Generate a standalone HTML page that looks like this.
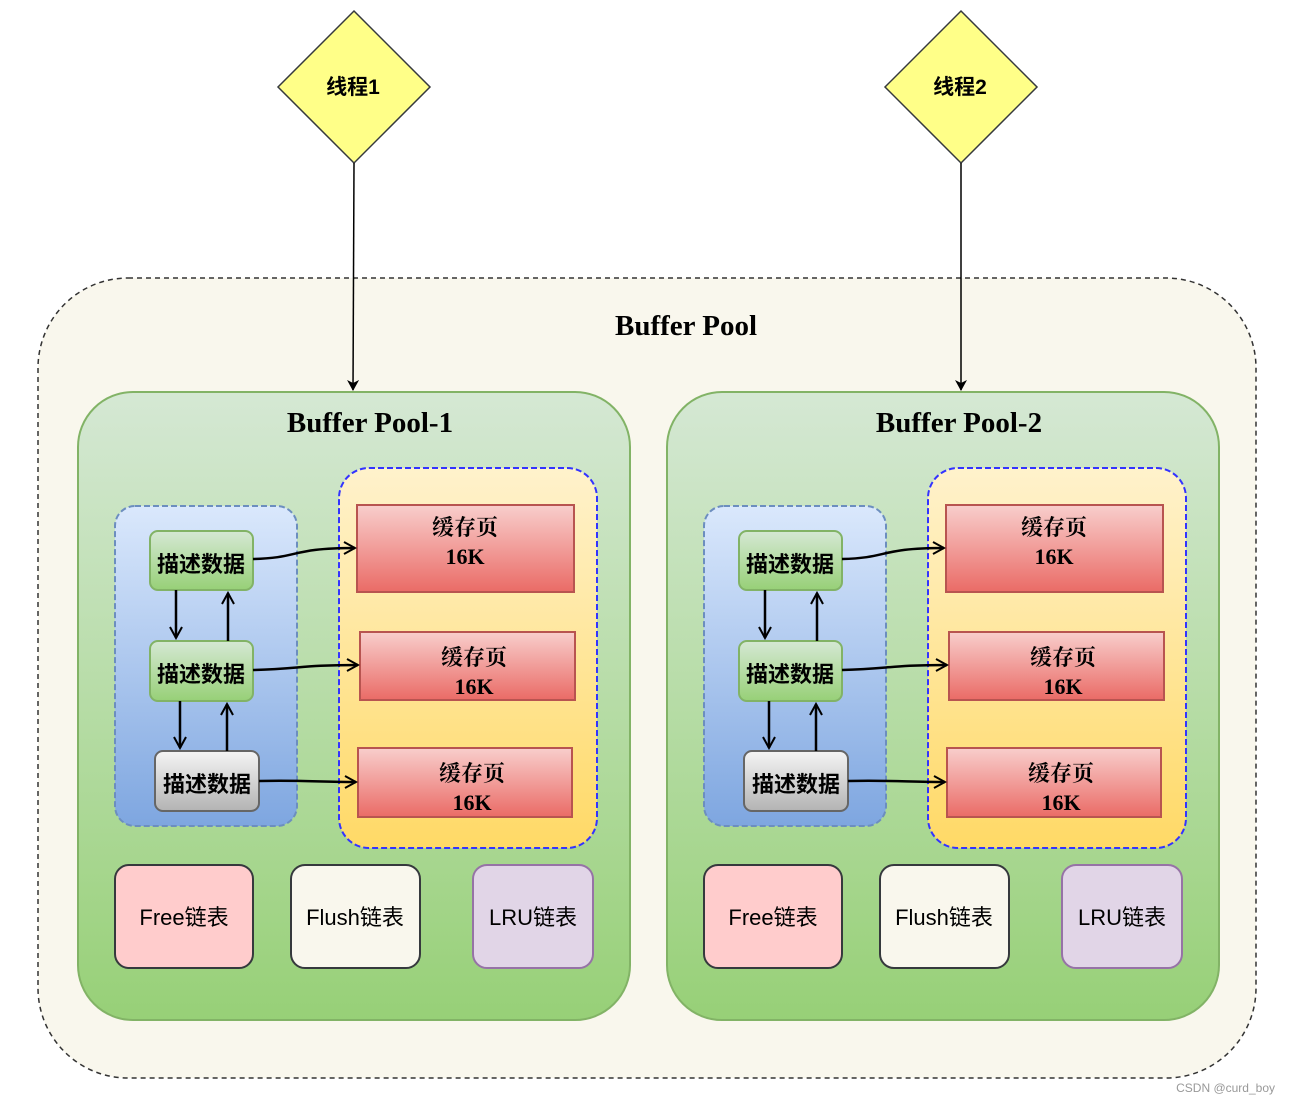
<!DOCTYPE html>
<html><head><meta charset="utf-8"><style>body{margin:0;background:#fff}</style></head><body>
<svg width="1290" height="1104" viewBox="0 0 1290 1104" xmlns="http://www.w3.org/2000/svg">
<defs>
<linearGradient id="gg" x1="0" y1="0" x2="0" y2="1"><stop offset="0" stop-color="#d5e8d4"/><stop offset="1" stop-color="#97d077"/></linearGradient>
<linearGradient id="bg" x1="0" y1="0" x2="0" y2="1"><stop offset="0" stop-color="#dae8fc"/><stop offset="1" stop-color="#7ea6e0"/></linearGradient>
<linearGradient id="yg" x1="0" y1="0" x2="0" y2="1"><stop offset="0" stop-color="#fff2cc"/><stop offset="1" stop-color="#ffd966"/></linearGradient>
<linearGradient id="rg" x1="0" y1="0" x2="0" y2="1"><stop offset="0" stop-color="#f8cecc"/><stop offset="1" stop-color="#ea6b66"/></linearGradient>
<linearGradient id="dg" x1="0" y1="0" x2="0" y2="1"><stop offset="0" stop-color="#d5e8d4"/><stop offset="1" stop-color="#97d077"/></linearGradient>
<linearGradient id="sg" x1="0" y1="0" x2="0" y2="1"><stop offset="0" stop-color="#f5f5f5"/><stop offset="1" stop-color="#b3b3b3"/></linearGradient>
<marker id="ah" markerWidth="12" markerHeight="12" refX="10" refY="6" orient="auto" markerUnits="userSpaceOnUse"><path d="M0,0 L11,6 L0,12 L3,6 Z" fill="#000"/></marker>
<marker id="oa" markerWidth="14" markerHeight="14" refX="12" refY="7" orient="auto" markerUnits="userSpaceOnUse"><path d="M1,1 L12,7 L1,13" fill="none" stroke="#000" stroke-width="2"/></marker>
<g id="pool">
<rect x="78" y="392" width="552" height="628" rx="55" fill="url(#gg)" stroke="#82b366" stroke-width="2"/>
<rect x="115" y="506" width="182" height="320" rx="20" fill="url(#bg)" stroke="#6c8ebf" stroke-width="2" stroke-dasharray="6,3"/>
<rect x="339" y="468" width="258" height="380" rx="30" fill="url(#yg)" stroke="#3333ff" stroke-width="2" stroke-dasharray="6,3"/>
<g font-family="Liberation Sans,'Noto Sans CJK SC',sans-serif" font-weight="bold" font-size="22" text-anchor="middle">
<rect x="150" y="531" width="103" height="59" rx="8" fill="url(#dg)" stroke="#82b366" stroke-width="2"/>
<text x="201" y="572">描述数据</text>
<rect x="150" y="641" width="103" height="60" rx="8" fill="url(#dg)" stroke="#82b366" stroke-width="2"/>
<text x="201" y="682">描述数据</text>
<rect x="155" y="751" width="104" height="60" rx="8" fill="url(#sg)" stroke="#666" stroke-width="2"/>
<text x="207" y="792">描述数据</text>
</g>
<g fill="url(#rg)" stroke="#b85450" stroke-width="2">
<rect x="357" y="505" width="217" height="87"/>
<rect x="360" y="632" width="215" height="68"/>
<rect x="358" y="748" width="214" height="69"/>
</g>
<g font-family="'Liberation Serif','Noto Serif CJK SC',serif" font-weight="bold" font-size="22" text-anchor="middle">
<text x="465" y="535">缓存页</text><text x="465" y="564">16K</text>
<text x="474" y="665">缓存页</text><text x="474" y="694">16K</text>
<text x="472" y="781">缓存页</text><text x="472" y="810">16K</text>
</g>
<g stroke="#000" stroke-width="2.5" fill="none" marker-end="url(#oa)">
<path d="M253,559 C300,558 290,548 355,548"/>
<path d="M253,670 C300,669 300,665 358,665"/>
<path d="M259,781 C300,780 320,782 356,782"/>
<path d="M176,590 L176,638"/>
<path d="M228,641 L228,593"/>
<path d="M180,701 L180,748"/>
<path d="M227,751 L227,704"/>
</g>
<g font-family="'Liberation Sans','Noto Sans CJK SC',sans-serif" font-size="22" text-anchor="middle">
<rect x="115" y="865" width="138" height="103" rx="14" fill="#ffcccc" stroke="#36393d" stroke-width="2"/>
<text x="184" y="925">Free链表</text>
<rect x="291" y="865" width="129" height="103" rx="14" fill="#f9f7ed" stroke="#36393d" stroke-width="2"/>
<text x="355" y="925">Flush链表</text>
<rect x="473" y="865" width="120" height="103" rx="14" fill="#e1d5e7" stroke="#9673a6" stroke-width="2"/>
<text x="533" y="925">LRU链表</text>
</g>
</g>
</defs>
<rect x="38" y="278" width="1218" height="800" rx="90" fill="#f9f7ed" stroke="#333" stroke-width="1.5" stroke-dasharray="5,4"/>
<text x="686" y="335" font-family="Liberation Serif,serif" font-weight="bold" font-size="29" text-anchor="middle">Buffer Pool</text>
<use href="#pool"/>
<g transform="translate(589,0)"><use href="#pool"/></g>
<g font-family="Liberation Serif,serif" font-weight="bold" font-size="29" text-anchor="middle">
<text x="370" y="432">Buffer Pool-1</text>
<text x="959" y="432">Buffer Pool-2</text>
</g>
<g fill="#ffff88" stroke="#36393d" stroke-width="1.5">
<polygon points="354,11 430,87 354,163 278,87"/>
<polygon points="961,11 1037,87 961,163 885,87"/>
</g>
<g font-family="'Liberation Sans','Noto Sans CJK SC',sans-serif" font-weight="bold" font-size="21" text-anchor="middle">
<text x="353" y="94">线程1</text><text x="960" y="94">线程2</text>
</g>
<g stroke="#000" stroke-width="1.5" marker-end="url(#ah)">
<line x1="354" y1="163" x2="353" y2="390"/>
<line x1="961" y1="163" x2="961" y2="390"/>
</g>
<text x="1275" y="1092" font-family="Liberation Sans,sans-serif" font-size="12" fill="#999" text-anchor="end">CSDN @curd_boy</text>
</svg>
</body></html>
